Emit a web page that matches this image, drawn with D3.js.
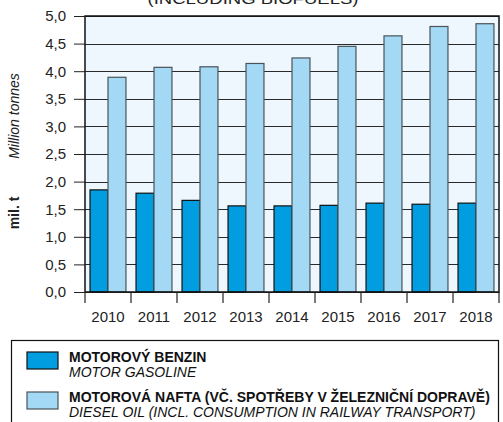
<!DOCTYPE html>
<html>
<head>
<meta charset="utf-8">
<script src="https://cdn.jsdelivr.net/npm/d3@7"></script>
<style>
  body { margin: 0; background: #fff; }
  svg { display: block; font-family: "Liberation Sans", Arial, sans-serif; }
</style>
</head>
<body>
<svg id="chart" width="503" height="422"></svg>
<script>

var years = ["2010", "2011", "2012", "2013", "2014", "2015", "2016", "2017", "2018"];
var gasoline = [1.85, 1.79, 1.66, 1.56, 1.56, 1.57, 1.61, 1.59, 1.61];
var diesel = [3.89, 4.07, 4.08, 4.14, 4.24, 4.45, 4.64, 4.81, 4.86];
var yTicks = [0, 0.5, 1, 1.5, 2, 2.5, 3, 3.5, 4, 4.5, 5];
var seriesNames = ["gasoline", "diesel"];
var legendCz = ["MOTOROVÝ BENZIN", "MOTOROVÁ NAFTA (VČ. SPOTŘEBY V ŽELEZNIČNÍ DOPRAVĚ)"];
var legendEn = ["MOTOR GASOLINE", "DIESEL OIL (INCL. CONSUMPTION IN RAILWAY TRANSPORT)"];

var colors = { gasoline: "#009ee0", diesel: "#a3d9f5" };
var strokes = { gasoline: "#111", diesel: "#4a5358" };

var svg = d3.select("#chart");

var plotLeft = 85, plotRight = 499, plotTop = 16, plotBottom = 292;

var x = d3.scaleBand().domain(years).range([plotLeft, plotRight]);
var xInner = d3.scaleBand().domain(seriesNames).range([0, x.bandwidth()]).paddingOuter(0.28);
var y = d3.scaleLinear().domain([0, 5]).range([plotBottom, plotTop]);

var fmt = function (d) { return d3.format(".1f")(d).replace(".", ","); };

// title (cut off at the top, as in the source)
svg.append("text")
  .attr("x", 253)
  .attr("y", 4)
  .attr("text-anchor", "middle")
  .attr("textLength", 211)
  .attr("lengthAdjust", "spacingAndGlyphs")
  .style("font-size", "15px")
  .style("fill", "#222")
  .text("(INCLUDING BIOFUELS)");

// plot background
svg.append("rect")
  .attr("x", plotLeft)
  .attr("y", plotTop)
  .attr("width", plotRight - plotLeft)
  .attr("height", plotBottom - plotTop)
  .style("fill", "#eef7fe");

// grid lines
svg.append("g")
  .selectAll("line")
  .data(yTicks)
  .join("line")
  .attr("x1", plotLeft)
  .attr("x2", plotRight)
  .attr("y1", d => Math.round(y(d)) + 0.5)
  .attr("y2", d => Math.round(y(d)) + 0.5)
  .style("stroke", "#2a2a2a")
  .style("stroke-width", 1);

// bars
var groups = svg.append("g")
  .selectAll("g")
  .data(years)
  .join("g")
  .attr("transform", d => `translate(${x(d)},0)`);

groups.selectAll("rect")
  .data((d, i) => [
    { key: "gasoline", value: gasoline[i] },
    { key: "diesel", value: diesel[i] }
  ])
  .join("rect")
  .attr("x", d => xInner(d.key))
  .attr("y", d => y(d.value))
  .attr("width", xInner.bandwidth())
  .attr("height", d => y(0) - y(d.value))
  .style("fill", d => colors[d.key])
  .style("stroke", d => strokes[d.key])
  .style("stroke-width", 1.2);

// frame
svg.append("rect")
  .attr("x", plotLeft)
  .attr("y", plotTop)
  .attr("width", plotRight - plotLeft)
  .attr("height", plotBottom - plotTop)
  .style("fill", "none")
  .style("stroke", "#111")
  .style("stroke-width", 1.5);

// y axis
var yAxis = svg.append("g")
  .attr("transform", `translate(${plotLeft},0)`)
  .call(d3.axisLeft(y).tickValues(yTicks).tickFormat(fmt).tickSize(11).tickPadding(8));
yAxis.select(".domain").remove();
yAxis.selectAll(".tick line").style("stroke", "#222");
yAxis.selectAll(".tick text")
  .style("font-size", "15px")
  .style("fill", "#222")
  .style("font-family", "\"Liberation Sans\", Arial, sans-serif");

// x axis ticks at band edges
var edges = years.map(d => x(d)).concat([plotRight]);
svg.append("g")
  .selectAll("line")
  .data(edges)
  .join("line")
  .attr("x1", d => d)
  .attr("x2", d => d)
  .attr("y1", plotBottom)
  .attr("y2", plotBottom + 11)
  .style("stroke", "#222")
  .style("stroke-width", 1.2);

svg.append("g")
  .selectAll("text")
  .data(years)
  .join("text")
  .attr("x", d => x(d) + x.bandwidth() / 2)
  .attr("y", 322)
  .attr("text-anchor", "middle")
  .style("font-size", "15px")
  .style("fill", "#222")
  .text(d => d);

// y axis titles
svg.append("text")
  .attr("transform", "translate(19,116) rotate(-90)")
  .attr("text-anchor", "middle")
  .style("font-size", "14px")
  .style("font-style", "italic")
  .style("fill", "#222")
  .text("Million tonnes");

svg.append("text")
  .attr("transform", "translate(19,213) rotate(-90)")
  .attr("text-anchor", "middle")
  .style("font-size", "14px")
  .style("font-weight", "bold")
  .style("fill", "#222")
  .text("mil. t");

// legend
var legend = svg.append("g");
legend.append("rect")
  .attr("x", 11.5)
  .attr("y", 340.5)
  .attr("width", 487)
  .attr("height", 100)
  .style("fill", "#fff")
  .style("stroke", "#111")
  .style("stroke-width", 1.2);

var items = legend.selectAll("g.item")
  .data(seriesNames)
  .join("g")
  .attr("class", "item")
  .attr("transform", (d, i) => `translate(0,${i * 40})`);

items.append("rect")
  .attr("x", 27)
  .attr("y", 352)
  .attr("width", 31)
  .attr("height", 17)
  .style("fill", d => colors[d])
  .style("stroke", d => strokes[d])
  .style("stroke-width", 1.2);

items.append("text")
  .attr("x", 69)
  .attr("y", 362)
  .style("font-size", "14px")
  .style("font-weight", "bold")
  .style("fill", "#111")
  .text((d, i) => legendCz[i]);

items.append("text")
  .attr("x", 69)
  .attr("y", 377)
  .style("font-size", "14px")
  .style("font-style", "italic")
  .style("fill", "#111")
  .text((d, i) => legendEn[i]);

</script>
</body>
</html>
